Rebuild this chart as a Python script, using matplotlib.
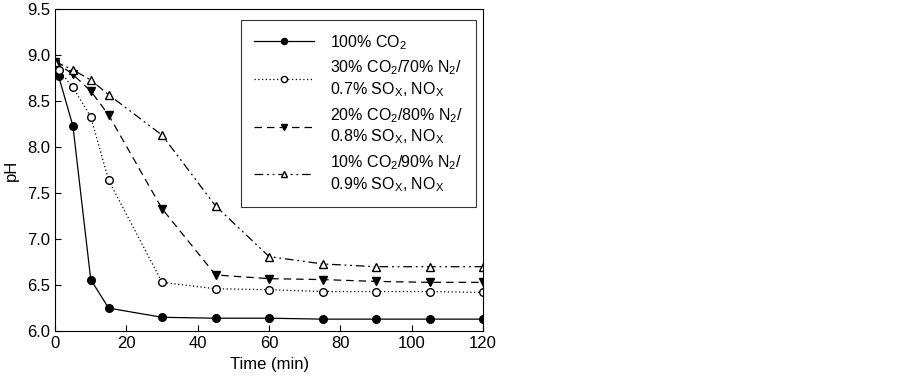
import matplotlib
matplotlib.use("Agg")
import matplotlib.pyplot as plt

plt.rcParams['font.family'] = ['Liberation Sans', 'DejaVu Sans']
plt.rcParams['mathtext.default'] = 'regular'

# time (min) and pH for each gas mixture
t_a = [0, 1, 5, 10, 15, 30, 45, 60, 75, 90, 105, 120]
ph_a = [8.92, 8.77, 8.23, 6.56, 6.25, 6.15, 6.14, 6.14, 6.13, 6.13, 6.13, 6.13]

t_b = [0, 1, 5, 10, 15, 30, 45, 60, 75, 90, 105, 120]
ph_b = [8.92, 8.84, 8.65, 8.33, 7.64, 6.53, 6.46, 6.45, 6.43, 6.43, 6.43, 6.42]

t_c = [0, 5, 10, 15, 30, 45, 60, 75, 90, 105, 120]
ph_c = [8.93, 8.79, 8.61, 8.35, 7.33, 6.61, 6.57, 6.56, 6.54, 6.53, 6.53]

t_d = [0, 5, 10, 15, 30, 45, 60, 75, 90, 105, 120]
ph_d = [8.93, 8.84, 8.73, 8.57, 8.13, 7.36, 6.81, 6.73, 6.70, 6.70, 6.70]

labels = ['100% CO$_2$',
          '30% CO$_2$/70% N$_2$/\n0.7% SO$_X$, NO$_X$',
          '20% CO$_2$/80% N$_2$/\n0.8% SO$_X$, NO$_X$',
          '10% CO$_2$/90% N$_2$/\n0.9% SO$_X$, NO$_X$']

fig = plt.figure(figsize=(9.03, 3.81), dpi=100)
ax = fig.add_axes([0.061, 0.131, 0.474, 0.845])

lw = 0.9
ms = 5.5
ax.plot(t_a, ph_a, '-', color='black', lw=lw, marker='o', ms=ms,
        mfc='black', mec='black', label=labels[0])
ax.plot(t_b, ph_b, color='black', lw=lw, ls=(0, (1, 2)), marker='o', ms=ms,
        mfc='white', mec='black', label=labels[1])
ax.plot(t_c, ph_c, color='black', lw=lw, ls=(0, (6, 4)), marker='v', ms=ms + 0.5,
        mfc='black', mec='black', label=labels[2])
ax.plot(t_d, ph_d, color='black', lw=lw, ls=(0, (7, 3, 1.5, 3, 1.5, 3)), marker='^',
        ms=ms + 0.5, mfc='white', mec='black', label=labels[3])

ax.set_xlim(0, 120)
ax.set_ylim(6.0, 9.5)
ax.set_xticks([0, 20, 40, 60, 80, 100, 120])
ax.set_yticks([6.0, 6.5, 7.0, 7.5, 8.0, 8.5, 9.0, 9.5])
ax.set_yticklabels(['%.1f' % v for v in ax.get_yticks()])
ax.tick_params(direction='in', labelsize=12, length=4, width=0.8)
for s in ax.spines.values():
    s.set_linewidth(0.8)
ax.set_xlabel('Time (min)', fontsize=12, labelpad=4)
ax.set_ylabel('pH', fontsize=12, labelpad=6)

leg = ax.legend(loc='upper right', bbox_to_anchor=(0.984, 0.966), borderaxespad=0,
                fontsize=11.5, handlelength=3.8, frameon=True, fancybox=False,
                edgecolor='black', borderpad=0.8, labelspacing=0.45,
                handletextpad=1.0, markerscale=0.8)
leg.get_frame().set_linewidth(0.8)

fig.savefig('out.png', dpi=100)
